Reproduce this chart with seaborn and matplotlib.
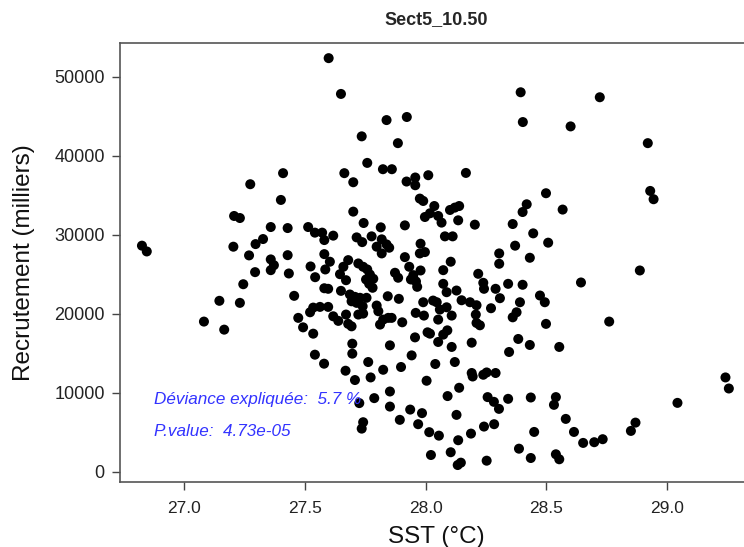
import matplotlib
matplotlib.use("Agg")
import matplotlib.pyplot as plt
import pandas as pd
import seaborn as sns

# SST (deg C) and recruitment (thousands)
sst = [
    27.598, 27.649, 27.409, 27.273, 27.663, 28.394, 28.403, 27.838, 27.922, 27.735,
    27.885, 27.758, 27.700, 27.823, 27.860, 27.921, 27.957, 27.957, 28.011, 28.167,
    28.722, 28.601, 28.921, 28.931, 28.945, 27.400, 27.206, 27.230, 27.358, 27.428,
    27.513, 27.541, 27.571, 27.617, 27.580, 27.326, 27.295, 26.824, 26.844, 27.203,
    27.268, 27.428, 27.358, 27.371, 27.358, 27.293, 27.433, 27.523, 27.580, 27.603,
    27.584, 27.645, 27.542, 27.244, 27.580, 27.596, 27.649, 27.455, 27.145, 27.230,
    27.534, 27.562, 27.596, 27.521, 27.617, 27.638, 27.472, 27.081, 27.165, 27.492,
    28.499, 27.976, 27.990, 28.036, 28.101, 28.121, 28.139, 28.419, 28.402, 27.700,
    28.018, 27.997, 28.052, 28.066, 28.135, 27.743, 27.814, 27.914, 28.204, 28.361,
    27.714, 27.737, 27.776, 27.818, 27.797, 27.838, 27.849, 27.818, 27.979, 28.080,
    28.112, 28.446, 28.371, 28.508, 27.976, 27.997, 27.914, 28.305, 28.305, 28.432,
    28.104, 27.679, 27.659, 27.670, 27.721, 27.741, 27.758, 27.769, 27.783, 27.753,
    27.766, 27.932, 27.979, 27.873, 27.886, 28.073, 28.218, 27.949, 27.939, 27.960,
    27.965, 28.073, 28.239, 28.242, 28.290, 28.342, 28.402, 27.780, 28.087, 28.128,
    27.686, 27.707, 27.728, 27.755, 27.693, 27.714, 27.843, 27.889, 27.739, 27.797,
    27.804, 27.990, 28.031, 28.046, 28.149, 28.184, 28.211, 28.308, 28.391, 28.474,
    28.494, 28.059, 28.087, 28.271, 27.959, 27.993, 28.108, 28.208, 28.377, 28.361,
    28.052, 27.670, 27.721, 27.741, 27.824, 27.845, 27.859, 27.811, 27.903, 27.679,
    27.693, 28.211, 28.225, 28.499, 28.568, 28.888, 28.644, 28.761, 27.534, 27.541,
    27.579, 27.956, 28.008, 28.018, 28.073, 28.090, 28.052, 28.108, 28.191, 28.384,
    28.432, 28.346, 27.696, 27.696, 27.852, 27.942, 27.762, 28.040, 28.121, 27.668,
    27.824, 27.898, 27.707, 27.772, 28.004, 28.191, 28.195, 28.239, 28.253, 28.290,
    28.139, 27.852, 27.787, 27.725, 28.091, 28.257, 28.283, 28.304, 28.342, 28.436,
    27.852, 27.936, 27.985, 28.128, 27.893, 27.741, 27.735, 27.969, 28.242, 28.284,
    28.015, 28.055, 28.188, 28.450, 28.135, 28.387, 28.022, 28.104, 28.436, 28.253,
    28.133, 28.146, 28.554, 29.243, 29.257, 29.044, 28.540, 28.532, 28.581, 28.615,
    28.653, 28.699, 28.734, 28.851, 28.870, 28.540, 28.554,
]
recrutement = [
    52370, 47840, 37810, 36410, 37810, 48050, 44280, 44530, 44920, 42470,
    41610, 39110, 36660, 38310, 38310, 36750, 37260, 36280, 37550, 37840,
    47420, 43730, 41610, 35560, 34510, 34420, 32390, 32130, 30990, 30860,
    30990, 30280, 30280, 29900, 29340, 29470, 28830, 28630, 27900, 28500,
    27400, 27430, 26890, 26160, 25530, 25280, 25110, 26000, 27560, 26600,
    25620, 25020, 24640, 23750, 23240, 23170, 22910, 22280, 21650, 21390,
    20790, 20880, 20880, 20200, 19690, 19110, 19490, 19020, 18000, 18290,
    35270, 34590, 34290, 33650, 33150, 33450, 33650, 33870, 32890, 32940,
    32730, 32260, 32390, 31550, 31840, 31500, 30950, 31200, 31290, 31370,
    29680, 29080, 29810, 29430, 28500, 28790, 28370, 27650, 28880, 29810,
    29810, 30190, 28630, 29010, 27650, 27820, 27180, 27650, 26340, 27100,
    26600, 26800, 25960, 24260, 26380, 25960, 25620, 24980, 24440, 24350,
    23800, 25960, 25490, 25200, 24570, 25530, 25070, 24900, 24350, 24100,
    23420, 23800, 23930, 23170, 23170, 23800, 23680, 23300, 22740, 22950,
    22450, 22150, 22030, 22030, 21590, 21390, 22230, 21900, 20960, 21050,
    20330, 21470, 21680, 21470, 21720, 21470, 21090, 21980, 21470, 22320,
    21470, 20540, 20830, 20710, 20120, 19780, 19780, 19910, 20200, 19560,
    19270, 19910, 19910, 20030, 19270, 19490, 19490, 18640, 18930, 18730,
    18420, 18850, 18550, 18730, 33200, 25490, 23970, 19020, 17490, 14830,
    13690, 17020, 17660, 17490, 17370, 17910, 16440, 15810, 16350, 16820,
    16060, 15170, 16220, 14960, 16010, 14740, 13900, 13650, 13900, 12800,
    12920, 13270, 11620, 11950, 11530, 12510, 12070, 12290, 12580, 12510,
    10640, 10170, 9330, 8700, 9590, 9460, 8860, 7970, 9240, 9410,
    8260, 7880, 7430, 7210, 6580, 6280, 5470, 6030, 5730, 6030,
    5020, 4580, 4840, 5050, 4000, 2930, 2130, 2480, 1750, 1410,
    860, 1160, 15810, 11950, 10550, 8730, 9460, 8480, 6700, 5050,
    3660, 3750, 4130, 5180, 6230, 2220, 1590,
]
x_ticks = [27.0, 27.5, 28.0, 28.5, 29.0]
y_ticks = [0, 10000, 20000, 30000, 40000, 50000]
deviance_text = "Déviance expliquée:  5.7 %"
pvalue_text = "P.value:  4.73e-05"

df = pd.DataFrame({"sst": sst, "recrutement": recrutement})

sns.set_style("ticks")
plt.rcParams["font.family"] = ["Liberation Sans", "DejaVu Sans"]

fig = plt.figure(figsize=(7.44, 5.47), dpi=100)
# the right edge of the box runs past the picture, as in the reference
ax = fig.add_axes([120 / 744, 1 - 481.7 / 547, 632 / 744, 438.4 / 547])

sns.scatterplot(data=df, x="sst", y="recrutement", ax=ax, color="black",
                s=52, edgecolor="none", marker="o", legend=False)

ax.set_xlim(26.733, 29.353)
ax.set_ylim(-1250, 54250)
ax.set_xticks(x_ticks)
ax.set_xticklabels([f"{t:.1f}" for t in x_ticks])
ax.set_yticks(y_ticks)
ax.set_yticklabels([str(t) for t in y_ticks])
ax.tick_params(axis="both", direction="out", length=6, width=1,
               color="#444444", labelcolor="#222222", labelsize=12.5, pad=5)
ax.tick_params(axis="x", pad=8)
ax.tick_params(axis="y", labelsize=13)

for side in ["left", "right", "top", "bottom"]:
    ax.spines[side].set_visible(True)
    ax.spines[side].set_color("#555555")
    ax.spines[side].set_linewidth(1.2)

ax.set_xlabel("SST (°C)", fontsize=17.5, color="#111111", labelpad=7)
ax.set_ylabel("Recrutement (milliers)", fontsize=17.5, color="#111111", labelpad=14)
ax.set_title("Sect5_10.50", fontsize=13, fontweight="bold", pad=14)

ax.text(26.874, 9115, deviance_text, color="#3333ff", style="italic",
        fontsize=12.3, va="center", ha="left")
ax.text(26.874, 5090, pvalue_text, color="#3333ff", style="italic",
        fontsize=12.3, va="center", ha="left")

fig.savefig("out.png", dpi=100)
